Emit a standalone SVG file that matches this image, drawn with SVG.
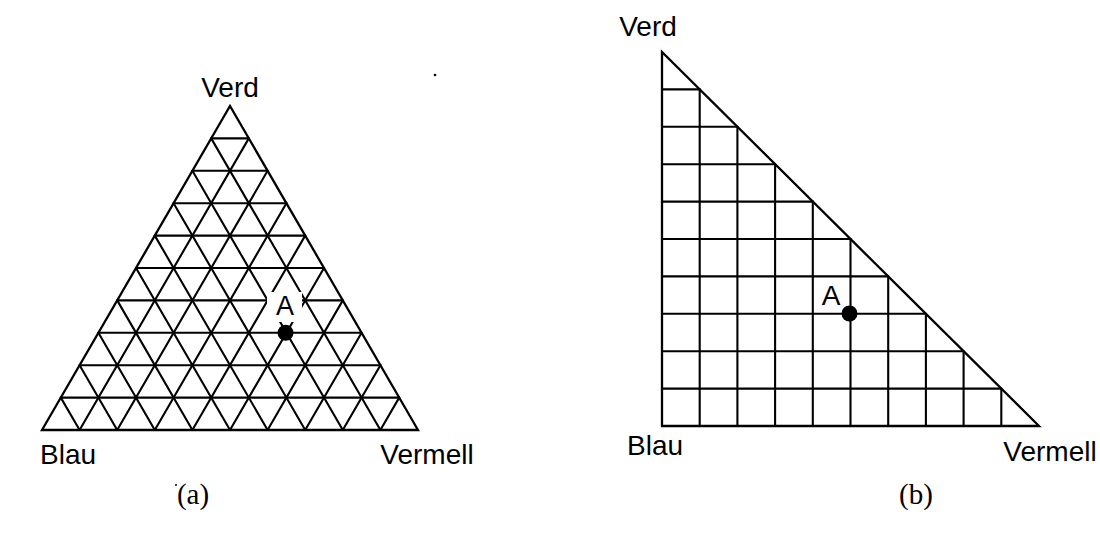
<svg xmlns="http://www.w3.org/2000/svg" width="1100" height="536" viewBox="0 0 1100 536">
<style>
.g{stroke:#000;stroke-width:2.1;fill:none;stroke-linecap:round}
.o{stroke:#000;stroke-width:2.3;fill:none;stroke-linejoin:miter}
.lbl{font-family:"Liberation Sans",Arial,sans-serif;font-size:28px;fill:#000}
.cap{font-family:"Liberation Serif","Times New Roman",serif;font-size:29px;fill:#000;text-anchor:middle}
</style>
<rect width="1100" height="536" fill="#fff"/>
<g id="triangle-a">
<polygon class="o" points="42,430 418,430 230,106"/>
<g class="g">
<line x1="60.8" y1="397.6" x2="399.2" y2="397.6"/>
<line x1="79.6" y1="365.2" x2="380.4" y2="365.2"/>
<line x1="98.4" y1="332.8" x2="361.6" y2="332.8"/>
<line x1="117.2" y1="300.4" x2="342.8" y2="300.4"/>
<line x1="136" y1="268" x2="324" y2="268"/>
<line x1="154.8" y1="235.6" x2="305.2" y2="235.6"/>
<line x1="173.6" y1="203.2" x2="286.4" y2="203.2"/>
<line x1="192.4" y1="170.8" x2="267.6" y2="170.8"/>
<line x1="211.2" y1="138.4" x2="248.8" y2="138.4"/>
<line x1="79.6" y1="430" x2="248.8" y2="138.4"/>
<line x1="117.2" y1="430" x2="267.6" y2="170.8"/>
<line x1="154.8" y1="430" x2="286.4" y2="203.2"/>
<line x1="192.4" y1="430" x2="305.2" y2="235.6"/>
<line x1="230" y1="430" x2="324" y2="268"/>
<line x1="267.6" y1="430" x2="342.8" y2="300.4"/>
<line x1="305.2" y1="430" x2="361.6" y2="332.8"/>
<line x1="342.8" y1="430" x2="380.4" y2="365.2"/>
<line x1="380.4" y1="430" x2="399.2" y2="397.6"/>
<line x1="79.6" y1="430" x2="60.8" y2="397.6"/>
<line x1="117.2" y1="430" x2="79.6" y2="365.2"/>
<line x1="154.8" y1="430" x2="98.4" y2="332.8"/>
<line x1="192.4" y1="430" x2="117.2" y2="300.4"/>
<line x1="230" y1="430" x2="136" y2="268"/>
<line x1="267.6" y1="430" x2="154.8" y2="235.6"/>
<line x1="305.2" y1="430" x2="173.6" y2="203.2"/>
<line x1="342.8" y1="430" x2="192.4" y2="170.8"/>
<line x1="380.4" y1="430" x2="211.2" y2="138.4"/>
</g>
<rect x="267" y="292" width="35" height="30" fill="#fff"/>
<circle cx="285.5" cy="332.8" r="8" fill="#000"/>
<text class="lbl" x="285" y="315" text-anchor="middle" style="font-size:27px">A</text>
<text class="lbl" x="230" y="97" text-anchor="middle">Verd</text>
<text class="lbl" x="40" y="464">Blau</text>
<text class="lbl" x="427" y="464" text-anchor="middle">Vermell</text>
<text class="cap" x="193" y="504">(a)</text>
</g>
<g id="triangle-b">
<polygon class="o" points="662,52 662,426 1039,426"/>
<g class="g">
<line x1="662" y1="89.4" x2="699.7" y2="89.4"/>
<line x1="662" y1="126.8" x2="737.4" y2="126.8"/>
<line x1="662" y1="164.2" x2="775.1" y2="164.2"/>
<line x1="662" y1="201.6" x2="812.8" y2="201.6"/>
<line x1="662" y1="239" x2="850.5" y2="239"/>
<line x1="662" y1="276.4" x2="888.2" y2="276.4"/>
<line x1="662" y1="313.8" x2="925.9" y2="313.8"/>
<line x1="662" y1="351.2" x2="963.6" y2="351.2"/>
<line x1="662" y1="388.6" x2="1001.3" y2="388.6"/>
<line x1="699.7" y1="89.4" x2="699.7" y2="426"/>
<line x1="737.4" y1="126.8" x2="737.4" y2="426"/>
<line x1="775.1" y1="164.2" x2="775.1" y2="426"/>
<line x1="812.8" y1="201.6" x2="812.8" y2="426"/>
<line x1="850.5" y1="239" x2="850.5" y2="426"/>
<line x1="888.2" y1="276.4" x2="888.2" y2="426"/>
<line x1="925.9" y1="313.8" x2="925.9" y2="426"/>
<line x1="963.6" y1="351.2" x2="963.6" y2="426"/>
<line x1="1001.3" y1="388.6" x2="1001.3" y2="426"/>
</g>
<circle cx="849.5" cy="313.5" r="8" fill="#000"/>
<text class="lbl" x="831" y="305" text-anchor="middle">A</text>
<text class="lbl" x="648" y="36" text-anchor="middle">Verd</text>
<text class="lbl" x="627" y="455">Blau</text>
<text class="lbl" x="1050" y="461" text-anchor="middle">Vermell</text>
<text class="cap" x="916" y="504">(b)</text>
</g>
<circle cx="435" cy="75" r="1.3" fill="#000"/>
<circle cx="176" cy="485" r="1" fill="#000"/>
</svg>
